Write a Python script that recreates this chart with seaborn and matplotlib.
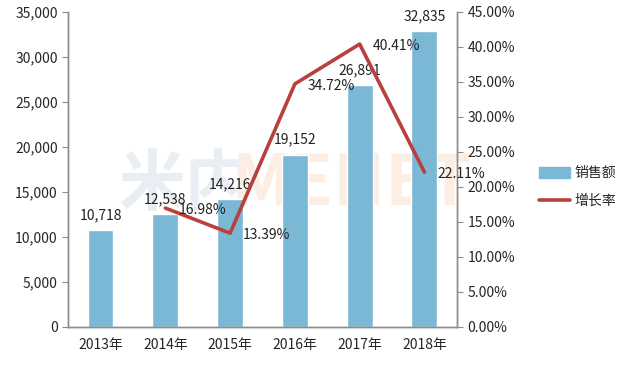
import numpy as np
import pandas as pd
import matplotlib
matplotlib.use("Agg")
import matplotlib.pyplot as plt
import seaborn as sns
from matplotlib.patches import Patch
from matplotlib.lines import Line2D

years = ["2013年", "2014年", "2015年", "2016年", "2017年", "2018年"]
sales = [10718, 12538, 14216, 19152, 26891, 32835]
growth_years = ["2014年", "2015年", "2016年", "2017年", "2018年"]
growth = [16.98, 13.39, 34.72, 40.41, 22.11]

bar_color = "#7ab8d6"
line_color = "#b8403f"
axis_color = "#8c8c8c"

sns.set_style("white")
plt.rcParams["font.family"] = ["Noto Sans CJK SC", "DejaVu Sans"]

df = pd.DataFrame({"year": years, "sales": sales})
gdf = pd.DataFrame({"year": growth_years, "growth": growth})
gdf["pos"] = [years.index(y) for y in growth_years]

fig = plt.figure(figsize=(6.31, 3.74), dpi=100)
ax = fig.add_axes([0.108, 0.126, 0.616, 0.842])

# faint watermark behind the bars
ax.text(0.13, 0.45, "米内", transform=ax.transAxes, fontsize=48, color="#e8eef3",
        fontweight="bold", va="center", zorder=0)
ax.text(0.42, 0.45, "MENET", transform=ax.transAxes, fontsize=50, color="#fdeee4",
        fontweight="bold", va="center", zorder=0)

sns.barplot(data=df, x="year", y="sales", color=bar_color, width=0.4,
            saturation=1, ax=ax, zorder=2)
ax.set_ylim(0, 35000)
ax.set_xlim(-0.5, 5.5)
ax.set_yticks(np.arange(0, 35001, 5000))
ax.set_yticklabels([f"{v:,}" for v in range(0, 35001, 5000)], fontsize=10)
ax.set_xlabel("")
ax.set_ylabel("")
ax.tick_params(axis="x", length=0, labelsize=10, pad=8)
ax.set_xticks(np.arange(-0.5, 6, 1), minor=True)
ax.tick_params(axis="x", which="minor", length=6, color=axis_color, direction="out")
ax.tick_params(axis="y", length=4, color=axis_color, direction="out", labelsize=10)

for i, v in enumerate(sales):
    ax.text(i, v + 900, f"{v:,}", ha="center", va="bottom", fontsize=10,
            color="#222222", zorder=5)

ax2 = ax.twinx()
sns.lineplot(data=gdf, x="pos", y="growth", color=line_color, linewidth=2.6, ax=ax2)
ax2.set_ylim(0, 45)
ax2.set_yticks(np.arange(0, 45.1, 5))
ax2.set_yticklabels([f"{v:.2f}%" for v in np.arange(0, 45.1, 5)], fontsize=10)
ax2.set_xlabel("")
ax2.set_ylabel("")
ax2.tick_params(axis="y", length=4, color=axis_color, direction="out", labelsize=10)
ax2.set_xlim(-0.5, 5.5)

for p, g in zip(gdf["pos"], gdf["growth"]):
    ax2.text(p + 0.2, g - 0.3, f"{g:.2f}%", ha="left", va="center", fontsize=10,
             color="#222222")

for a in (ax, ax2):
    a.spines["top"].set_visible(False)
    for s in ["left", "right", "bottom"]:
        a.spines[s].set_color(axis_color)
        a.spines[s].set_linewidth(1)

handles = [Patch(facecolor=bar_color, edgecolor=bar_color),
           Line2D([0], [0], color=line_color, linewidth=2.6)]
fig.legend(handles, ["销售额", "增长率"], loc="center left",
           bbox_to_anchor=(0.835, 0.5), frameon=False, fontsize=10,
           handlelength=2.2, handleheight=0.8, labelspacing=1.0, handletextpad=0.3)

fig.savefig("out.png", dpi=100)
